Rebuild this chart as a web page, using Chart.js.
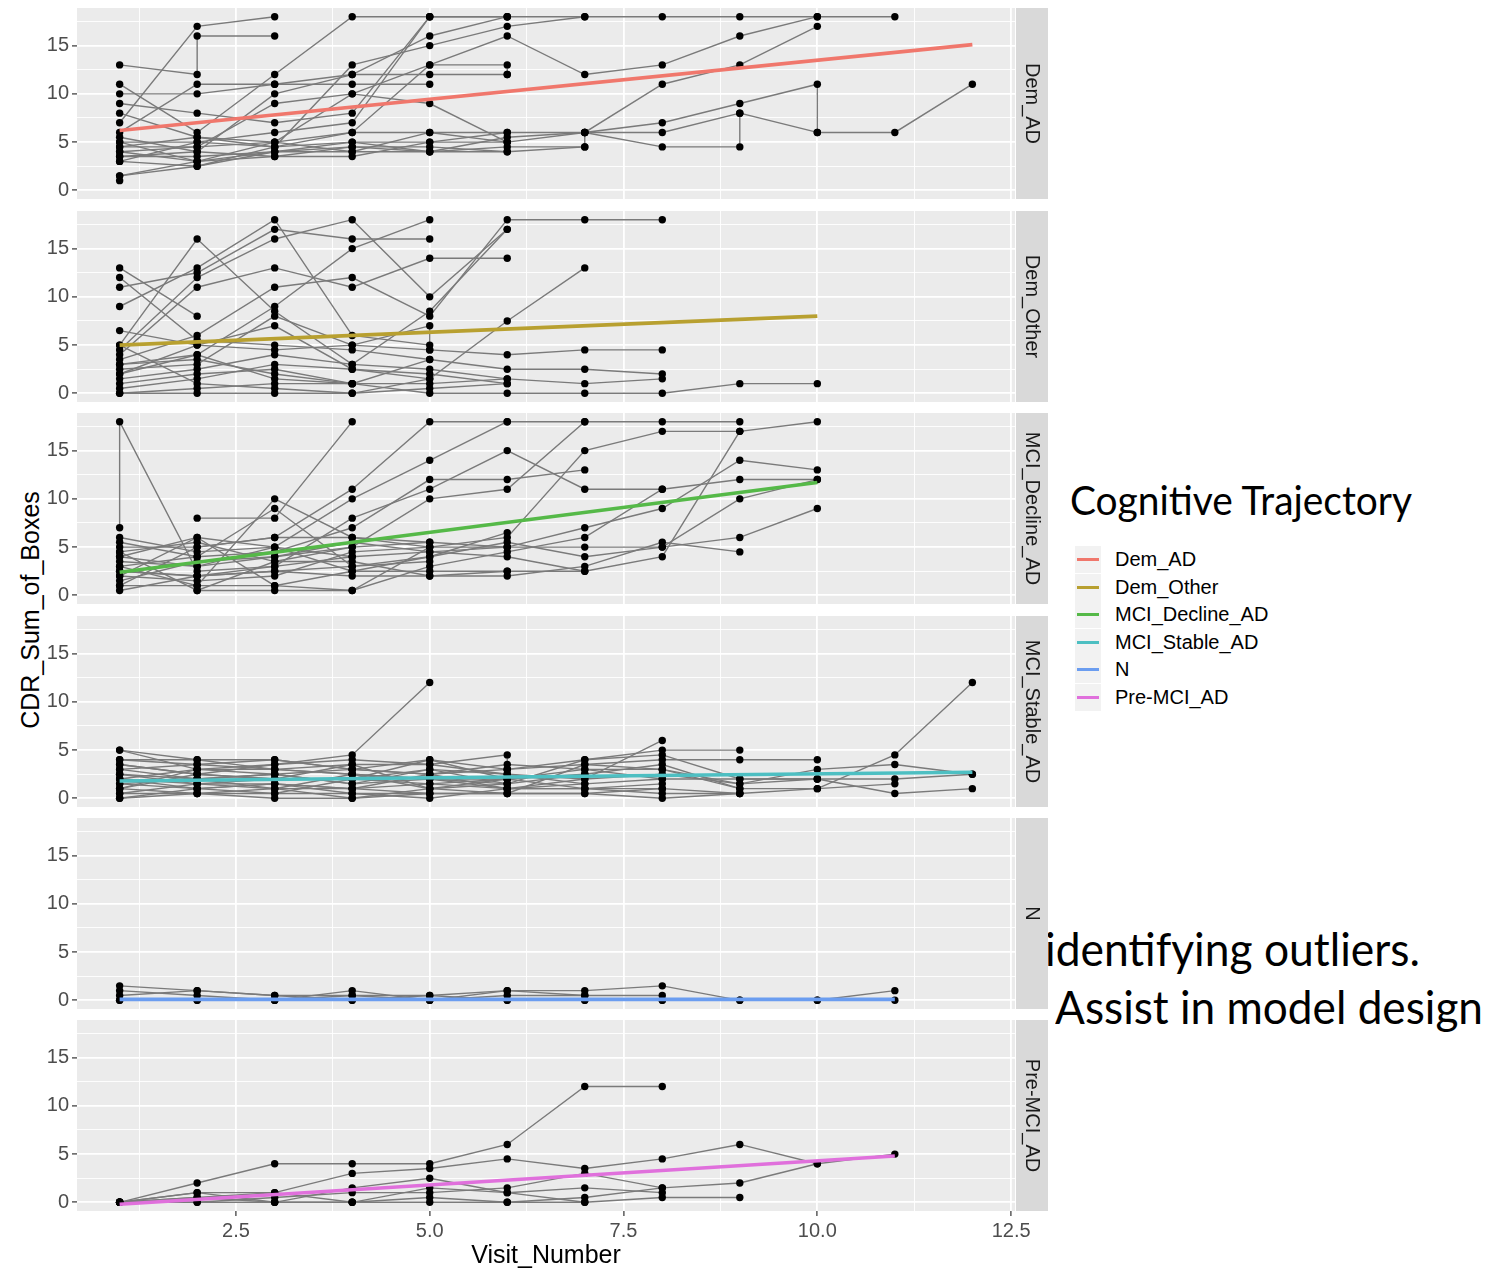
<!DOCTYPE html>
<html>
<head>
<meta charset="utf-8">
<script src="https://cdn.jsdelivr.net/npm/chart.js@4.4.1/dist/chart.umd.min.js"></script>
<style>
  html, body { margin: 0; padding: 0; background: #fff; }
  body { position: relative; width: 1503px; height: 1270px; overflow: hidden; font-family: "Liberation Sans", Arial, sans-serif; }
  canvas { position: absolute; left: 0; }
  #ytitle { position: absolute; left: 30px; top: 610px; transform: translate(-50%, -50%) rotate(-90deg); white-space: nowrap; font-size: 25px; color: #000; line-height: 1; }
  #legend { position: absolute; left: 1070px; top: 480px; }
  #legendTitle { position: absolute; left: 0; top: 0; font-family: Lato, "Open Sans", sans-serif; font-size: 40px; line-height: 1; white-space: nowrap; transform-origin: 0 0; color: #000; }
  .key { position: absolute; left: 5px; width: 26px; height: 27px; background: #F2F2F2; }
  .key i { position: absolute; left: 2px; right: 2px; top: 12px; height: 3px; }
  .lab { position: absolute; left: 45px; font-size: 20px; line-height: 27px; white-space: nowrap; color: #000; }
  .note { position: absolute; font-family: Lato, "Open Sans", sans-serif; font-size: 46px; line-height: 1; white-space: nowrap; transform-origin: 0 0; color: #000; }
</style>
</head>
<body>
<div id="ytitle">CDR_Sum_of_Boxes</div>
<div id="legend"><div id="legendTitle">Cognitive Trajectory</div></div>
<div class="note" id="note1" style="left:1045px; top:926px;">identifying outliers.</div>
<div class="note" id="note2" style="left:1055px; top:984px;">Assist in model design</div>
<script>
// Facet groups and their fitted linear trends (CDR sum of boxes vs. visit)
const groups = ['Dem_AD', 'Dem_Other', 'MCI_Decline_AD', 'MCI_Stable_AD', 'N', 'Pre-MCI_AD'];
const trendColors = ['#F0776C', '#B8A030', '#55B948', '#4DBFC2', '#6B9DF0', '#E070DC'];
const trendFrom = [1, 1, 1, 1, 1, 1];
const trendTo = [12, 10, 10, 12, 11, 11];
const trendStart = [6.2, 5.0, 2.4, 1.8, 0.1, -0.2];
const trendEnd = [15.1, 8.0, 11.7, 2.7, 0.1, 4.8];

const xTicks = [2.5, 5, 7.5, 10, 12.5];
const yTicks = [0, 5, 10, 15];

// Per-subject trajectories: [visit, CDR sum of boxes]
const demAD = [
  [[1,7],[2,17],[3,18]],
  [[1,13],[2,12],[2,16],[3,16]],
  [[1,6],[2,11],[3,11],[4,11],[5,11]],
  [[1,10],[2,10],[3,11],[4,12],[5,12],[6,12]],
  [[1,9],[2,8],[3,7],[4,8],[5,18]],
  [[1,11],[2,6],[3,12],[4,18],[5,18],[6,18],[7,18],[8,18],[9,18],[10,18],[11,18]],
  [[1,8],[2,5.5],[3,4.5],[4,13],[5,15],[6,17],[7,18]],
  [[1,5.5],[2,4],[3,10],[4,12],[5,16],[6,18]],
  [[1,5],[2,5],[3,6],[4,7],[5,18],[6,18]],
  [[1,4.5],[2,4.5],[3,9],[4,10],[5,13],[6,16],[7,12],[8,13],[9,16],[10,18]],
  [[1,4],[2,3],[3,5],[4,10],[5,9],[6,5]],
  [[1,3],[2,2.5],[3,4.5],[4,6],[5,13],[6,13],[6,12]],
  [[1,4],[2,4.5],[3,5],[4,6],[5,6],[6,6],[7,6],[8,11],[9,13],[10,17]],
  [[1,3.5],[2,3.5],[3,4],[4,4.5],[5,4.5],[6,4],[7,4.5],[7,6],[8,7],[9,9],[10,11],[10,6],[11,6],[12,11]],
  [[1,1.5],[2,2.5],[3,4],[4,4],[5,4],[6,4.5],[7,4.5]],
  [[1,1],[1,1.5],[2,3],[3,3.5],[4,3.5],[5,5],[6,5],[7,6],[8,4.5],[9,4.5],[9,8],[10,6]],
  [[1,5],[2,3],[3,4],[4,5],[5,4],[6,5.5],[7,6],[8,6],[9,8]],
  [[1,3],[2,5],[3,4.5],[4,5],[5,5],[6,6]],
  [[1,4.5],[2,5.5],[3,5],[4,4],[5,6],[6,5]],
  [[1,3.5],[2,4],[3,3.5],[4,4.5],[5,4],[6,4]]
];
const demOther = [
  [[1,13],[2,8]],
  [[1,12],[2,5.5],[3,5],[4,4.5],[5,3.5],[6,2.5],[7,2.5],[8,2]],
  [[1,11],[2,12.5],[3,17],[4,16],[5,16]],
  [[1,9],[2,13],[3,18],[4,6],[5,5]],
  [[1,5],[2,16],[3,8.5],[4,3],[5,2.5],[6,1.5],[7,1],[8,1.5]],
  [[1,4.5],[2,12],[3,16],[4,18],[5,10],[6,17]],
  [[1,4],[2,11],[3,13],[4,11],[5,14],[6,14]],
  [[1,3.5],[2,6],[3,11],[4,12],[5,8],[6,18],[7,18],[8,18]],
  [[1,3],[2,4],[3,9],[4,15],[5,18]],
  [[1,2.5],[2,3],[3,8],[4,5],[5,4.5],[6,4],[7,4.5],[8,4.5]],
  [[1,2],[2,5],[3,7],[4,2.5],[5,1.5],[6,7.5],[7,13]],
  [[1,1.5],[2,2.5],[3,4],[4,3],[5,8.5],[6,17]],
  [[1,1],[2,2],[3,2.5],[4,1],[5,0],[6,0],[7,0],[8,0],[9,1],[10,1]],
  [[1,0.5],[2,1.5],[3,3],[4,2.5],[5,2],[6,1]],
  [[1,0],[2,0],[3,0],[4,0],[5,0.5],[6,1]],
  [[1,6.5],[2,5],[3,4.5],[4,5],[5,7],[5,4.5]],
  [[1,0],[2,0.5],[3,1],[4,1],[5,1],[6,1.5]],
  [[1,3],[2,3.5],[3,2],[4,1]],
  [[1,2],[2,4],[3,1.5],[4,1],[5,3.5]],
  [[1,5],[2,1],[3,0.5],[4,0],[5,1.5]]
];
const mciDecline = [
  [[1,7],[1,18],[2,2.5],[3,3],[4,4]],
  [[1,6],[2,4.5],[3,5],[4,2.5],[5,2.5],[6,2.5],[7,2.5]],
  [[2,8],[3,8],[4,18]],
  [[1,5],[2,5],[3,6],[4,11],[5,18],[6,18],[7,18],[8,18],[9,18]],
  [[1,4],[2,3],[3,5],[4,10],[5,14],[6,18]],
  [[1,3],[2,4],[3,4.5],[4,7],[5,12],[6,12],[7,13]],
  [[1,2.5],[2,2],[3,3],[4,8],[5,11],[6,15],[7,11],[8,11]],
  [[1,4.5],[2,5.5],[3,3.5],[4,5],[5,10],[6,11],[7,18]],
  [[1,2],[2,1.5],[3,2],[4,4.5],[5,5],[6,6],[7,15],[8,17],[9,17],[10,18]],
  [[1,1.5],[2,3.5],[3,4],[4,5],[5,5.5],[6,5],[7,7],[8,9],[9,14],[10,13]],
  [[1,1],[2,1],[3,1],[4,0.5],[5,3],[6,4.5],[7,6],[8,11],[9,12],[10,12]],
  [[1,0.5],[2,2],[3,2.5],[4,3],[5,4],[6,5.5],[7,4],[8,5],[9,10],[10,12]],
  [[1,3.5],[2,3],[3,4],[4,5.5],[5,4.5],[6,4],[7,2.5],[8,4],[9,17]],
  [[1,4],[2,6],[3,5],[4,4],[5,4.5],[6,5],[7,5],[8,5],[9,6],[10,9]],
  [[1,2.5],[2,2],[3,2.5],[4,2],[5,2],[6,2],[7,3],[8,5.5],[9,4.5]],
  [[2,0.5],[3,0.5],[4,0.5],[5,5]],
  [[1,5.5],[2,4],[3,9],[4,3],[5,3.5]],
  [[1,3],[2,1],[3,10],[4,6],[5,5.5]],
  [[1,2],[2,6],[3,1],[4,2.5],[5,4],[6,6.5]],
  [[1,1],[2,5],[3,6],[4,6],[5,5],[6,5]],
  [[1,4.5],[2,0.5],[3,3.5],[4,3.5],[5,2],[6,2.5]]
];
const mciStable = [
  [[1,5],[2,3],[3,3.5],[4,4.5],[5,12]],
  [[1,5],[2,4],[3,4],[4,3],[5,4],[6,3],[7,4],[8,5],[9,5]],
  [[1,4],[2,3.5],[3,3],[4,3.5],[5,3.5],[6,4.5],[6,3],[7,3.5],[8,4],[9,4],[10,4]],
  [[1,3.5],[2,2.5],[3,2],[4,2],[5,3],[6,2.5],[7,2],[8,6]],
  [[1,3],[2,2],[3,2.5],[4,1.5],[5,2],[6,2],[7,3],[8,3],[9,1.5],[10,3],[11,3.5],[12,2.5]],
  [[1,2.5],[2,1.5],[3,1],[4,2.5],[5,1],[6,1.5],[7,2.5],[8,3.5],[9,1],[10,1],[11,4.5],[12,12]],
  [[1,2],[2,3],[3,2.5],[4,3],[5,2.5],[6,1],[7,1.5],[8,2],[9,2],[10,2],[11,2],[12,2.5]],
  [[1,1.5],[2,1],[3,1.5],[4,1],[5,1.5],[6,2],[7,1],[8,1],[9,0.5],[10,1],[11,1.5]],
  [[1,1],[2,0.5],[3,0.5],[4,0.5],[5,0.5],[6,0.5],[7,0.5],[8,0],[9,0.5]],
  [[1,0.5],[2,1.5],[3,2],[4,2],[5,1.5],[6,1],[7,2],[8,2.5],[9,1.5],[10,2],[11,0.5],[12,1]],
  [[1,0],[2,1],[3,1.5],[4,0.5],[5,0],[6,1],[7,1],[8,1.5]],
  [[1,4],[2,4],[3,3],[4,2.5],[5,2],[6,1.5],[7,4],[8,4.5],[9,2],[10,2]],
  [[1,2.5],[2,2],[3,1],[4,1],[5,0.5],[6,0.5],[7,3.5],[8,3],[9,1]],
  [[1,1],[2,2.5],[3,3.5],[4,4],[5,3.5],[6,2.5],[7,1.5]],
  [[1,0.5],[2,0.5],[3,0],[4,0],[5,1],[6,2],[7,2.5]],
  [[1,1.5],[2,2],[3,2.5],[4,1.5],[5,3],[6,1.5]],
  [[1,3],[2,3.5],[3,4],[4,3],[5,2.5],[6,3]],
  [[1,2],[2,1],[3,0.5],[4,2],[5,4],[6,2]],
  [[1,0],[2,0.5],[3,1],[4,0],[5,0.5]],
  [[1,3.5],[2,2.5],[3,2],[4,3.5],[5,1],[6,0.5],[7,0.5],[8,1]],
  [[1,2],[2,1.5],[3,1.5],[4,1],[5,2.5],[6,3.5],[7,3],[8,2]],
  [[1,1],[2,3],[3,3],[4,2.5],[5,2],[6,1],[7,1],[8,0.5],[9,0.5]]
];
const normal = [
  [[1,1.5],[2,1],[3,0.5],[4,0.5],[5,0.5],[6,1],[7,1],[8,1.5],[9,0],[10,0],[11,1]],
  [[1,1],[2,0.5],[3,0],[4,1],[5,0],[6,0.5],[7,0.5],[8,0.5]],
  [[1,0.5],[2,1],[3,0.5],[4,0],[5,0.5],[6,0],[7,0],[8,0]],
  [[1,0],[2,0],[3,0],[4,0.5],[5,0],[6,1],[7,0.5]],
  [[1,0],[2,0],[3,0],[4,0],[5,0],[6,0],[7,0],[8,0],[9,0],[10,0],[11,0]]
];
const preMCI = [
  [[1,0],[2,2],[3,4],[4,4],[5,4],[6,6],[7,12],[8,12]],
  [[1,0],[2,1],[3,1],[4,3],[5,3.5],[6,4.5],[7,3.5],[8,4.5],[9,6],[10,4],[11,5]],
  [[1,0],[2,0.5],[3,0],[4,1.5],[5,2.5],[6,1],[7,1.5],[8,1]],
  [[1,0],[2,0],[3,0.5],[4,1],[5,1],[6,1.5],[7,3],[8,1.5],[9,2],[10,4]],
  [[1,0],[2,1],[3,0],[4,0],[5,0],[6,0],[7,0],[8,0.5],[9,0.5]],
  [[1,0],[2,0],[3,0],[4,0],[5,0.5],[6,0],[7,0.5],[8,1.5]],
  [[1,0],[2,0.5],[3,1],[4,0],[5,1.5],[6,1],[7,0]]
];
const panelData = [demAD, demOther, mciDecline, mciStable, normal, preMCI];

// ---- layout ----
const FONT = '"Liberation Sans", Arial, sans-serif';
const panelTops = [8, 211, 413, 616, 818, 1020];
const panelHeight = 191;
const xAxisHeight = 58;
const X_MIN = 0.45, X_MAX = 12.55, Y_MIN = -0.9, Y_MAX = 18.9;

// major + minor grid positions (minor halfway between majors)
function withMinors(major, lo, hi) {
  const step = major[1] - major[0];
  const out = [];
  for (let v = major[0] - step / 2; v <= major[major.length - 1] + step / 2 + 1e-9; v += step / 2) {
    if (v >= lo && v <= hi) out.push(+v.toFixed(4));
  }
  return out;
}
const xGrid = withMinors(xTicks, X_MIN, X_MAX);
const yGrid = withMinors(yTicks, Y_MIN, Y_MAX);
const isMajor = (list, v) => list.some(t => Math.abs(t - v) < 1e-6);

// panel background and facet strip
const facetDecor = {
  id: 'facetDecor',
  beforeDraw(chart, args, opts) {
    const { ctx, chartArea: a } = chart;
    ctx.save();
    ctx.fillStyle = '#EBEBEB';
    ctx.fillRect(a.left, a.top, a.right - a.left, a.bottom - a.top);
    ctx.fillStyle = '#D9D9D9';
    ctx.fillRect(a.right + 1, a.top, 32, a.bottom - a.top);
    ctx.translate(a.right + 17, (a.top + a.bottom) / 2);
    ctx.rotate(Math.PI / 2);
    ctx.fillStyle = '#1A1A1A';
    ctx.font = '20px ' + FONT;
    ctx.textAlign = 'center';
    ctx.textBaseline = 'middle';
    ctx.fillText(opts.label, 0, 0);
    ctx.restore();
  }
};

function makePanel(i) {
  const bottom = i === groups.length - 1;
  const canvas = document.createElement('canvas');
  const h = panelHeight + (bottom ? xAxisHeight : 0);
  canvas.width = 1050; canvas.height = h;
  canvas.style.top = panelTops[i] + 'px';
  canvas.style.width = '1050px'; canvas.style.height = h + 'px';
  document.body.appendChild(canvas);

  const subjects = panelData[i];
  const datasets = [];
  datasets.push({
    data: [{ x: trendFrom[i], y: trendStart[i] }, { x: trendTo[i], y: trendEnd[i] }],
    showLine: true, borderColor: trendColors[i], borderWidth: 3.6, pointRadius: 0, order: 0
  });
  datasets.push({
    data: subjects.flat().map(([x, y]) => ({ x, y })),
    showLine: false, pointRadius: 3.7, pointBackgroundColor: '#000', pointBorderWidth: 0, order: 1
  });
  subjects.forEach(s => datasets.push({
    data: s.map(([x, y]) => ({ x, y })),
    showLine: true, borderColor: '#7A7A7A', borderWidth: 1.4, pointRadius: 0, order: 2
  }));

  new Chart(canvas, {
    type: 'scatter',
    data: { datasets },
    plugins: [facetDecor],
    options: {
      responsive: false, animation: false, devicePixelRatio: 1, events: [],
      layout: { padding: { left: 0, right: 35, top: 0, bottom: 0 }, autoPadding: false },
      plugins: { legend: { display: false }, tooltip: { enabled: false }, facetDecor: { label: groups[i] } },
      scales: {
        x: {
          type: 'linear', min: X_MIN, max: X_MAX,
          afterBuildTicks: s => { s.ticks = xGrid.map(v => ({ value: v })); },
          afterFit: s => { s.height = bottom ? xAxisHeight : 0; s.paddingLeft = 0; s.paddingRight = 0; },
          border: { display: false },
          grid: {
            color: '#FFFFFF',
            lineWidth: c => isMajor(xTicks, c.tick.value) ? 1.8 : 0.9,
            drawTicks: bottom, tickLength: 5, tickWidth: 1.2,
            tickColor: c => isMajor(xTicks, c.tick.value) ? '#333333' : 'rgba(0,0,0,0)'
          },
          ticks: {
            display: bottom, autoSkip: false, maxRotation: 0, padding: 3,
            color: '#4D4D4D', font: { family: FONT, size: 20 },
            callback: v => isMajor(xTicks, v) ? v.toFixed(1) : ''
          },
          title: { display: bottom, text: 'Visit_Number', color: '#000', font: { family: FONT, size: 25 }, padding: { top: 0, bottom: -2 } }
        },
        y: {
          type: 'linear', min: Y_MIN, max: Y_MAX,
          afterBuildTicks: s => { s.ticks = yGrid.map(v => ({ value: v })); },
          afterFit: s => { s.width = 77; s.paddingTop = 0; s.paddingBottom = 0; },
          border: { display: false },
          grid: {
            color: '#FFFFFF',
            lineWidth: c => isMajor(yTicks, c.tick.value) ? 1.8 : 0.9,
            drawTicks: true, tickLength: 5, tickWidth: 1.2,
            tickColor: c => isMajor(yTicks, c.tick.value) ? '#333333' : 'rgba(0,0,0,0)'
          },
          ticks: {
            autoSkip: false, padding: 3, color: '#4D4D4D', font: { family: FONT, size: 20 },
            callback: v => isMajor(yTicks, v) ? String(v) : ''
          }
        }
      }
    }
  });
}
groups.forEach((g, i) => makePanel(i));

// legend built from the group names and trend colours
const legend = document.getElementById('legend');
groups.forEach((g, i) => {
  const top = 66 + i * 27.6;
  const key = document.createElement('div');
  key.className = 'key'; key.style.top = top + 'px';
  const line = document.createElement('i'); line.style.background = trendColors[i];
  key.appendChild(line); legend.appendChild(key);
  const lab = document.createElement('div');
  lab.className = 'lab'; lab.style.top = top + 'px'; lab.textContent = g;
  legend.appendChild(lab);
});

// stretch the large text runs to their set widths
function fitWidth(id, w) {
  const el = document.getElementById(id);
  const cur = el.getBoundingClientRect().width;
  el.style.transform = 'scaleX(' + (w / cur) + ')';
}
fitWidth('legendTitle', 342);
fitWidth('note1', 375);
fitWidth('note2', 428);
</script>
</body>
</html>
